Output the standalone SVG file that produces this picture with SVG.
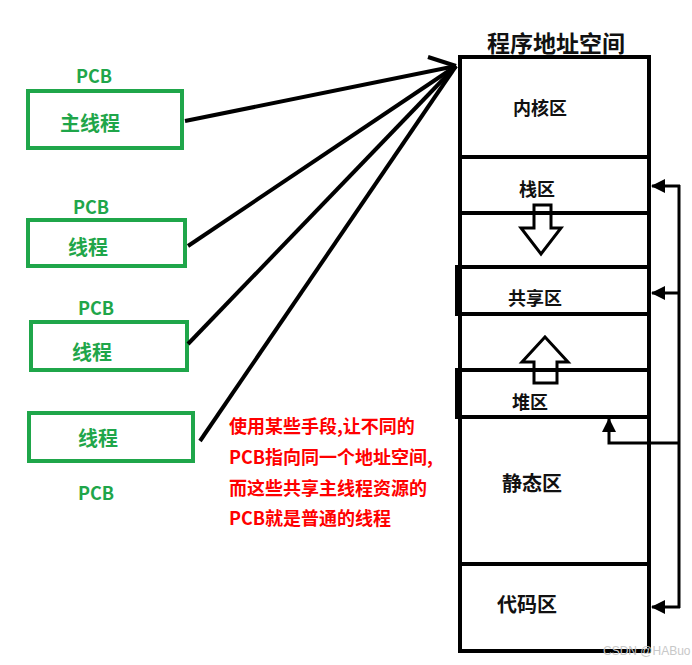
<svg xmlns="http://www.w3.org/2000/svg" width="692" height="665" viewBox="0 0 692 665">
<defs>
<style>
.g{fill:none;stroke:#1fa64a;stroke-width:4}
.gt{fill:#1fa64a;font-family:"Noto Sans CJK SC","Noto Sans",sans-serif;font-weight:bold;font-size:18px;text-anchor:middle;dominant-baseline:central}
.gl{font-size:20px}
.bt{fill:#111;font-family:"Noto Sans CJK SC","Noto Sans",sans-serif;font-weight:bold;font-size:18px;text-anchor:middle;dominant-baseline:central}
.rt{fill:#f00;font-family:"Noto Sans CJK SC","Noto Sans",sans-serif;font-weight:bold;font-size:18px;dominant-baseline:central}
.k{fill:none;stroke:#000;stroke-width:4}
.c{fill:none;stroke:#000;stroke-width:3}
.ha{fill:#fff;stroke:#000;stroke-width:3;stroke-linejoin:miter}
</style>
<marker id="ah" markerUnits="userSpaceOnUse" markerWidth="16" markerHeight="16" refX="13" refY="7" orient="auto">
<path d="M0,0 L14,7 L0,14 z" fill="#000"/>
</marker>
</defs>
<rect width="692" height="665" fill="#fff"/>

<g id="pcb1">
<text class="gt" x="94" y="75">PCB</text>
<rect class="g" x="28" y="91" width="154" height="57"/>
<text class="gt gl" x="90" y="122">主线程</text>
</g>
<g id="pcb2">
<text class="gt" x="91" y="206">PCB</text>
<rect class="g" x="28" y="220" width="157" height="46"/>
<text class="gt gl" x="88" y="246">线程</text>
</g>
<g id="pcb3">
<text class="gt" x="96" y="307">PCB</text>
<rect class="g" x="31" y="322" width="156" height="48"/>
<text class="gt gl" x="92" y="351">线程</text>
</g>
<g id="pcb4">
<rect class="g" x="29" y="413" width="164" height="48"/>
<text class="gt gl" x="98" y="437">线程</text>
<text class="gt" x="96" y="492">PCB</text>
</g>

<g id="address-space">
<text class="bt" x="556" y="42" style="font-size:23px">程序地址空间</text>
<polygon class="ha" points="534,205 551,205 551,228 561,228 541,254 521,228 534,228"/>
<polygon class="ha" points="545,337 568,362 557,362 557,383 534,383 534,362 522,362"/>
<rect class="k" x="460" y="57" width="189" height="594"/>
<line class="k" x1="460" y1="157" x2="649" y2="157"/>
<line class="k" x1="460" y1="213" x2="649" y2="213"/>
<rect class="k" x="457" y="267" width="192" height="47"/>
<rect class="k" x="457" y="370" width="192" height="47"/>
<line class="k" x1="460" y1="564" x2="649" y2="564"/>
</g>
<g id="kernel"><text class="bt" x="540" y="107">内核区</text></g>
<g id="stack"><text class="bt" x="537" y="188">栈区</text></g>
<g id="shared"><text class="bt" x="535" y="297">共享区</text></g>
<g id="heap"><text class="bt" x="530" y="401">堆区</text></g>
<g id="static"><text class="bt" x="532" y="482" style="font-size:20px">静态区</text></g>
<g id="code"><text class="bt" x="527" y="603" style="font-size:20px">代码区</text></g>

<g id="connectors">
<line class="k" x1="185" y1="121" x2="456" y2="66"/>
<line class="k" x1="188" y1="246" x2="456" y2="66"/>
<line class="k" x1="188" y1="344" x2="456" y2="66"/>
<line class="k" x1="200" y1="441" x2="456" y2="66"/>
<polyline class="k" points="428,57 456,66"/>
<line class="c" x1="679" y1="185" x2="679" y2="608"/>
<line class="c" x1="680" y1="186" x2="652" y2="186" marker-end="url(#ah)"/>
<line class="c" x1="680" y1="293" x2="652" y2="293" marker-end="url(#ah)"/>
<line class="c" x1="680" y1="607" x2="652" y2="607" marker-end="url(#ah)"/>
<polyline class="c" points="679,443 609,443 609,419" marker-end="url(#ah)"/>
</g>

<g id="note">
<text class="rt" x="229" y="425">使用某些手段,让不同的</text>
<text class="rt" x="229" y="456">PCB指向同一个地址空间,</text>
<text class="rt" x="229" y="487">而这些共享主线程资源的</text>
<text class="rt" x="229" y="517">PCB就是普通的线程</text>
</g>
<text x="603" y="655" style="fill:#c8c8c8;font-family:'Liberation Sans',sans-serif;font-size:12px">CSDN @HABuo</text>
</svg>
